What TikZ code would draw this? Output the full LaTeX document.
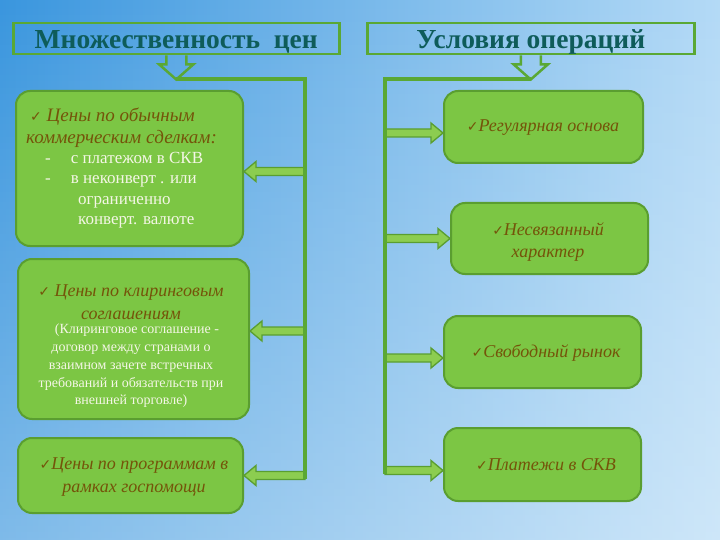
\documentclass[tikz,border=0pt]{standalone}
\usepackage{fontspec}
\setmainfont{Liberation Serif}
\newfontfamily\chkfont{DejaVu Sans}
\usetikzlibrary{calc,fadings}
\definecolor{bgL}{HTML}{3A96DE}
\definecolor{bgR}{HTML}{B4DAF6}
\definecolor{gline}{HTML}{5AA834}
\definecolor{gfill}{HTML}{7CC644}
\definecolor{gedge}{HTML}{5A9E30}
\definecolor{afill}{HTML}{8CCD50}
\definecolor{txtb}{HTML}{74540A}
\definecolor{txtw}{HTML}{F4F6E6}
\definecolor{titlec}{HTML}{0E5C5A}
\newcommand{\ck}{{\chkfont\fontsize{14}{14}\selectfont ✓}}
\newcommand{\barrow}[3]{\filldraw[blockarr] let \p1=(#1), \p2=(#2) in
  (\x1,{\y2+4pt}) -- ({\x2+#3pt},{\y2+4pt}) -- ({\x2+#3pt},{\y2+10pt}) -- (\x2,\y2)
  -- ({\x2+#3pt},{\y2-10pt}) -- ({\x2+#3pt},{\y2-4pt}) -- (\x1,{\y2-4pt}) -- cycle;}
\tikzset{
  titlebox/.style={draw=gline, line width=2.5pt, inner sep=0pt, text=titlec,
    text height=19pt, text depth=0pt,
    font=\bfseries\fontsize{27.5}{30}\selectfont},
  box/.style={draw=gedge, fill=gfill, line width=2pt, rounded corners=14pt, inner sep=0pt},
  blockarr/.style={draw=gedge, fill=afill, line width=1.3pt, line join=miter},
  hollow/.style={draw=gline, line width=2.5pt, line join=miter},
  conn/.style={draw=gline, line width=4pt},
  btxt/.style={text=txtb, font=\itshape\fontsize{18}{22.5}\selectfont, align=center, inner sep=0pt},
}
\begin{document}
\begin{tikzpicture}[x=1pt,y=-1pt]
\useasboundingbox (0,0) rectangle (720,540);
\shade[left color=bgL, right color=bgR] (0,0) rectangle (720,540);
\fill[white, path fading=north, fill opacity=0.35] (0,0) rectangle (720,540);

% titles
\node[titlebox, minimum width=326, minimum height=31, anchor=north west] (T1) at (12,22) {Множественность\ \ цен};
\node[titlebox, minimum width=327, minimum height=31, anchor=north west] (T2) at (366,22) {Условия операций};

% boxes left
\node[box, minimum width=227, minimum height=155, anchor=north west] (b1) at (15,90) {};
\node[box, minimum width=231, minimum height=160, anchor=north west] (b2) at (17,258) {};
\node[box, minimum width=225, minimum height=75, anchor=north west] (b3) at (17,437) {};
% boxes right
\node[box, minimum width=199, minimum height=72, anchor=north west] (R1) at (443,90) {};
\node[box, minimum width=197, minimum height=71, anchor=north west] (R2) at (450,202) {};
\node[box, minimum width=197, minimum height=72, anchor=north west] (R3) at (443,315) {};
\node[box, minimum width=197, minimum height=73, anchor=north west] (R4) at (443,427) {};

% hollow arrows under titles
\draw[hollow] ($(T1.south)+(-10,0)$) -- ($(T1.south)+(-10,9)$) -- ($(T1.south)+(-17,9)$)
  -- ($(T1.south)+(0,24)$) coordinate (ltip) -- ($(T1.south)+(17,9)$) -- ($(T1.south)+(10,9)$) -- ($(T1.south)+(10,0)$);
\draw[hollow] ($(T2.south)+(-10,0)$) -- ($(T2.south)+(-10,9)$) -- ($(T2.south)+(-17,9)$)
  -- ($(T2.south)+(0,24)$) coordinate (rtip) -- ($(T2.south)+(17,9)$) -- ($(T2.south)+(10,9)$) -- ($(T2.south)+(10,0)$);

\coordinate (lvx) at (305,0);
\coordinate (rvx) at (385,0);
\coordinate (lv) at (ltip -| lvx);
\coordinate (rv) at (rtip -| rvx);
\coordinate (lvb) at (305,479);
\coordinate (rvb) at (385,474);

% block arrows
\barrow{lv}{$(b1.east)+(0,3)$}{12}
\barrow{lv}{$(b2.east)+(0,-8)$}{12}
\barrow{lv}{b3.east}{12}
\barrow{rv}{$(R1.west)+(0,6)$}{-12}
\barrow{rv}{R2.west}{-12}
\barrow{rv}{$(R3.west)+(0,6)$}{-12}
\barrow{rv}{$(R4.west)+(0,6)$}{-12}

% connector lines
\draw[conn] (ltip) -- (lv) -- (lvb);
\draw[conn] (rtip) -- (rv) -- (rvb);

% texts left
\node[anchor=north west, align=left, inner sep=0pt, font=\fontsize{17}{20.3}\selectfont] (x1) at (26,108) {%
  \textcolor{txtb}{\fontsize{19}{20.3}\selectfont\hspace*{4pt}\ck\ \textit{Цены по обычным}}\\[1pt]
  \textcolor{txtb}{\fontsize{19}{20.3}\selectfont\textit{коммерческим сделкам:}}\\
  \textcolor{txtw}{\hspace*{19pt}-\hspace*{20pt}с платежом в СКВ}\\
  \textcolor{txtw}{\hspace*{19pt}-\hspace*{20pt}в неконверт . или}\\
  \textcolor{txtw}{\hspace*{52pt}ограниченно}\\
  \textcolor{txtw}{\hspace*{52pt}конверт. валюте}};
\node[btxt] (x2) at (131,302) {\ck\ Цены по клиринговым\\соглашениям};
\node[align=center, inner sep=0pt, text=txtw, font=\fontsize{14}{17.8}\selectfont] (x2b) at (131,366)
  {\hspace*{12pt}(Клиринговое соглашение -\\договор между странами о\\взаимном зачете встречных\\требований и обязательств при\\внешней торговле)};
\node[btxt] (x3) at (134,477) {\ck Цены по программам в\\рамках госпомощи};
% texts right
\node[btxt] (y1) at (543,128) {\ck Регулярная основа};
\node[btxt] (y2) at (548,242) {\ck Несвязанный\\характер};
\node[btxt] (y3) at (546,353) {\ck Свободный рынок};
\node[btxt] (y4) at (546,465) {\ck Платежи в СКВ};
\end{tikzpicture}
\end{document}
